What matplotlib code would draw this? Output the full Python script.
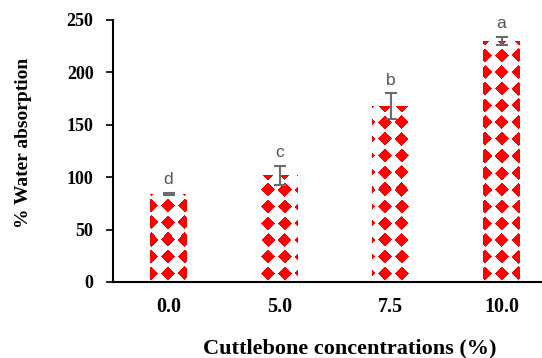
import numpy as np
import matplotlib
matplotlib.use("Agg")
import matplotlib.pyplot as plt

categories = ["0.0", "5.0", "7.5", "10.0"]
values = [84, 102, 168, 230]
errors = [1, 9, 12, 4]
letters = ["d", "c", "b", "a"]

W, H = 542, 358
fig = plt.figure(figsize=(W / 100, H / 100), dpi=100)
ax_l, ax_b = 113 / W, (H - 282) / H
ax_w, ax_h = 444 / W, 262 / H
ax = fig.add_axes([ax_l, ax_b, ax_w, ax_h])

x = np.arange(len(categories))
bars = ax.bar(x, values, width=0.33, color="none", edgecolor="none", zorder=2)

# diamond texture
pw, ph = 444, 262
P = 16.7
yy, xx = np.mgrid[0:ph, 0:pw]
dx = ((xx + 4) % P) - P / 2
dy = ((yy + 6) % P) - P / 2
mask = (np.abs(dx) + np.abs(dy)) <= 7.0
mask |= (np.abs(dx) <= 1.5) & (np.abs(dy) <= 1.5) & False
tex = np.ones((ph, pw, 4))
tex[mask] = [1, 0, 0, 1]
for b in bars:
    im = ax.imshow(tex, extent=[0, 1, 0, 1], transform=ax.transAxes,
                   interpolation="nearest", aspect="auto", zorder=2)
    im.set_clip_path(b)

ax.set_xlim(-0.5, len(categories) - 0.5)
ax.set_ylim(0, 250)

ax.errorbar(x, values, yerr=errors, fmt="none", ecolor="#6b6b6b",
            elinewidth=1.5, capsize=4.5, capthick=1.5, zorder=3)
for xi, v, e, t in zip(x, values, errors, letters):
    ax.annotate(t, (xi, v + e), xytext=(0, 4), textcoords="offset points",
                ha="center", va="bottom", color="#555555", fontsize=12.5,
                family="Liberation Sans")

ax.set_yticks([0, 50, 100, 150, 200, 250])
ax.set_xticks(x)
ax.set_xticklabels(categories)
for sp in ["top", "right"]:
    ax.spines[sp].set_visible(False)
for sp in ["left", "bottom"]:
    ax.spines[sp].set_linewidth(1.5)
    ax.spines[sp].set_color("black")
ax.tick_params(axis="y", direction="out", length=5, width=1.2, pad=9)
ax.tick_params(axis="x", length=0, pad=11)
for lab in ax.get_yticklabels():
    lab.set_fontfamily("Liberation Serif")
    lab.set_fontweight("bold")
    lab.set_fontsize(13)
for lab in ax.get_xticklabels():
    lab.set_fontfamily("Liberation Serif")
    lab.set_fontweight("bold")
    lab.set_fontsize(14.5)

fig.text(350 / W, 1 - 348 / H, "Cuttlebone concentrations (%)", ha="center", va="center",
         family="Liberation Serif", fontweight="bold", fontsize=16)
fig.text(24 / W, 1 - 143 / H, "% Water absorption", ha="center", va="center",
         rotation=90, family="Liberation Serif", fontweight="bold", fontsize=14)

fig.savefig("out.png", dpi=100)
